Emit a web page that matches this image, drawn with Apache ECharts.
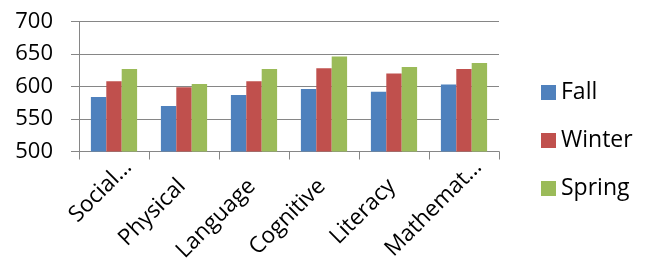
<!DOCTYPE html>
<html>
<head>
<meta charset="utf-8">
<script src="https://cdn.jsdelivr.net/npm/echarts@6/dist/echarts.min.js"></script>
<style>
html,body{margin:0;padding:0;background:#fff;}
#chart{width:655px;height:272px;}
</style>
</head>
<body>
<div id="chart"></div>
<script>
var categories = ["Social…", "Physical", "Language", "Cognitive", "Literacy", "Mathemat…"];
var fall = [584, 570, 587, 596, 592, 603];
var winter = [608, 599, 608, 628, 620, 627];
var spring = [627, 604, 627, 646, 630, 636];
var seriesNames = ["Fall", "Winter", "Spring"];
var yTicks = [500, 550, 600, 650, 700];

var FONT = "'Open Sans', 'Noto Sans', sans-serif";
var chart = echarts.init(document.getElementById('chart'), null, {renderer: 'canvas'});
var gray = '#868686';
var option = {
  animation: false,
  backgroundColor: '#ffffff',
  color: ['#4F81BD', '#C0504D', '#9BBB59'],
  grid: {left: 79, right: 156, top: 21.5, bottom: 120.5, containLabel: false},
  legend: {
    orient: 'vertical',
    left: 536,
    top: 75.5,
    itemWidth: 15,
    itemHeight: 15,
    itemGap: 24,
    icon: 'rect',
    data: seriesNames,
    textStyle: {fontFamily: FONT, fontSize: 23, lineHeight: 24, color: '#000'}
  },
  xAxis: {
    type: 'category',
    data: categories,
    axisLine: {show: true, lineStyle: {color: gray, width: 1}},
    axisTick: {show: true, length: 8, lineStyle: {color: gray}},
    axisLabel: {
      rotate: 45, margin: -2, interval: 0, verticalAlign: 'top',
      fontFamily: FONT, fontSize: 22.5, color: '#000',
      formatter: function (v) {
        return v.indexOf('…') >= 0 ? '{t|' + v + '}' : '{n|' + v + '}';
      },
      rich: {
        t: {fontFamily: FONT, fontSize: 22.5, lineHeight: 40, color: '#000'},
        n: {fontFamily: FONT, fontSize: 22.5, lineHeight: 44, color: '#000', padding: [0, 25, 0, 0]}
      }
    }
  },
  yAxis: {
    type: 'value',
    min: yTicks[0],
    max: yTicks[yTicks.length - 1],
    interval: 50,
    axisLine: {show: true, lineStyle: {color: gray, width: 1}},
    axisTick: {show: true, length: 8, lineStyle: {color: gray}},
    splitLine: {show: true, lineStyle: {color: gray, width: 1}},
    axisLabel: {margin: 26, fontFamily: FONT, fontSize: 22, color: '#000'}
  },
  series: [
    {name: seriesNames[0], type: 'bar', data: fall, barGap: '0%', barCategoryGap: '34%'},
    {name: seriesNames[1], type: 'bar', data: winter, barGap: '0%', barCategoryGap: '34%'},
    {name: seriesNames[2], type: 'bar', data: spring, barGap: '0%', barCategoryGap: '34%'}
  ]
};
chart.setOption(option);
</script>
</body>
</html>
